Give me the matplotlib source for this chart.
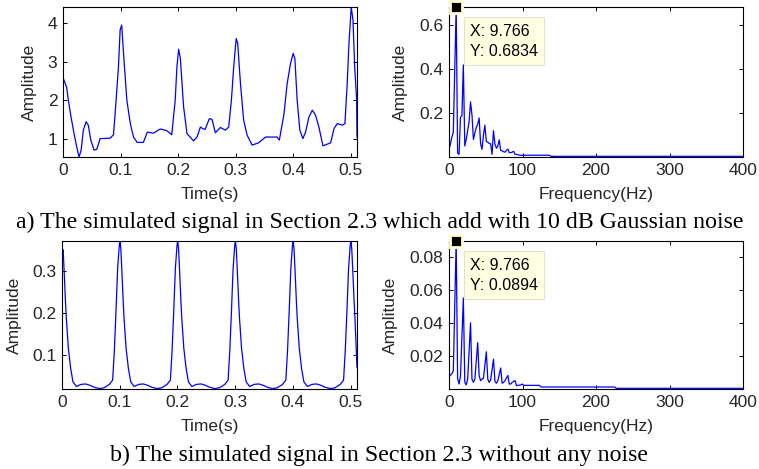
import numpy as np
import matplotlib
matplotlib.use('Agg')
import matplotlib.pyplot as plt

# time signal with 10 dB noise
t_noisy = [0.000, 0.0005, 0.0035, 0.0064, 0.0093, 0.014, 0.0192, 0.0239, 0.0279, 0.0314,
           0.0354, 0.0401, 0.044, 0.048, 0.054, 0.0587, 0.0645, 0.082, 0.0877, 0.0906,
           0.0964, 0.0993, 0.102, 0.106, 0.111, 0.117, 0.1225, 0.129, 0.1397, 0.1467,
           0.157, 0.169, 0.180, 0.189, 0.195, 0.198, 0.201, 0.204, 0.2096, 0.2155,
           0.227, 0.233, 0.2387, 0.243, 0.247, 0.2544, 0.259, 0.2648, 0.2735, 0.282,
           0.288, 0.2927, 0.2967, 0.301, 0.3037, 0.3084, 0.314, 0.320, 0.3287, 0.340,
           0.352, 0.372, 0.376, 0.3838, 0.3897, 0.3955, 0.400, 0.403, 0.407, 0.4117,
           0.417, 0.4216, 0.4274, 0.4333, 0.439, 0.4448, 0.4518, 0.4652, 0.471, 0.4768,
           0.4855, 0.490, 0.494, 0.497, 0.501, 0.504, 0.507, 0.5104, 0.511]
v_noisy = [2.45, 2.57, 2.45, 2.33, 2.0, 1.56, 1.13, 0.78, 0.52, 0.69,
           1.22, 1.44, 1.35, 0.98, 0.70, 0.72, 1.0, 1.01, 1.1, 1.65,
           2.87, 3.83, 3.96, 3.04, 2.0, 1.39, 1.04, 0.9, 0.9, 1.17,
           1.14, 1.25, 1.21, 1.1, 2.0, 2.87, 3.33, 3.09, 1.83, 1.13,
           0.94, 1.04, 1.3, 1.26, 1.24, 1.52, 1.50, 1.15, 1.29, 1.22,
           1.30, 2.0, 2.87, 3.61, 3.48, 2.44, 1.48, 1.09, 0.83, 0.89,
           1.04, 1.04, 0.96, 1.61, 2.44, 2.96, 3.22, 3.09, 2.0, 1.22,
           1.0, 1.17, 1.56, 1.74, 1.61, 1.30, 0.81, 0.89, 1.26, 1.39,
           1.35, 1.39, 2.44, 3.48, 4.43, 4.09, 2.87, 2.0, 1.04]

# clean time signal
t_clean = [0.000, 0.001, 0.002, 0.0035, 0.006, 0.0075, 0.011, 0.015, 0.019, 0.025,
           0.033, 0.041, 0.048, 0.056, 0.065, 0.073, 0.082,
           0.0877, 0.0906, 0.0935, 0.0964, 0.0993, 0.1005, 0.102, 0.1035, 0.106, 0.1075,
           0.111, 0.115, 0.119, 0.125, 0.133, 0.141, 0.148, 0.156, 0.165, 0.173, 0.182,
           0.1877, 0.1906, 0.1935, 0.1964, 0.1993, 0.2005, 0.202, 0.2035, 0.206, 0.2075,
           0.211, 0.215, 0.219, 0.225, 0.233, 0.241, 0.248, 0.256, 0.265, 0.273, 0.282,
           0.2877, 0.2906, 0.2935, 0.2964, 0.2993, 0.3005, 0.302, 0.3035, 0.306, 0.3075,
           0.311, 0.315, 0.319, 0.325, 0.333, 0.341, 0.348, 0.356, 0.365, 0.373, 0.382,
           0.3877, 0.3906, 0.3935, 0.3964, 0.3993, 0.4005, 0.402, 0.4035, 0.406, 0.4075,
           0.411, 0.415, 0.419, 0.425, 0.433, 0.441, 0.448, 0.456, 0.465, 0.473, 0.482,
           0.4877, 0.4906, 0.4935, 0.4964, 0.4993, 0.5005, 0.502, 0.5035, 0.506, 0.5075,
           0.511]
v_clean = [0.371, 0.345, 0.350, 0.306, 0.227, 0.187, 0.116, 0.068, 0.036, 0.025,
           0.030, 0.031, 0.028, 0.023, 0.020, 0.022, 0.030,
           0.040, 0.108, 0.203, 0.306, 0.362, 0.371, 0.350, 0.306, 0.227, 0.187,
           0.116, 0.068, 0.036, 0.025, 0.030, 0.031, 0.028, 0.023, 0.020, 0.022, 0.030,
           0.040, 0.108, 0.203, 0.306, 0.362, 0.371, 0.350, 0.306, 0.227, 0.187,
           0.116, 0.068, 0.036, 0.025, 0.030, 0.031, 0.028, 0.023, 0.020, 0.022, 0.030,
           0.040, 0.108, 0.203, 0.306, 0.362, 0.371, 0.350, 0.306, 0.227, 0.187,
           0.116, 0.068, 0.036, 0.025, 0.030, 0.031, 0.028, 0.023, 0.020, 0.022, 0.030,
           0.040, 0.108, 0.203, 0.306, 0.362, 0.371, 0.350, 0.306, 0.227, 0.187,
           0.116, 0.068, 0.036, 0.025, 0.030, 0.031, 0.028, 0.023, 0.020, 0.022, 0.030,
           0.040, 0.108, 0.203, 0.306, 0.362, 0.371, 0.350, 0.306, 0.227, 0.187,
           0.070]

# amplitude spectrum, noisy
f_noisy = [0, 1.95, 3.9, 5.86, 9.766, 11.7, 13.7, 15.6, 17.6, 19.5,
           21.5, 23.4, 25.4, 27.3, 29.3, 31.3, 33.2, 35.2, 37.1, 39.1,
           41.0, 43.0, 44.9, 46.9, 48.8, 50.8, 52.7, 54.7, 56.6, 58.6,
           60.5, 62.5, 64.5, 66.4, 68.4, 70.3, 72.3, 74.2, 76.2, 78.1,
           80.1, 82.0, 84.0, 85.9, 87.9, 89.8, 91.8, 93.8, 95.7, 97.7,
           136.7, 138.7, 400]
a_noisy = [0.035, 0.06, 0.09, 0.112, 0.6834, 0.018, 0.012, 0.18, 0.19, 0.42,
           0.05, 0.08, 0.12, 0.16, 0.251, 0.19, 0.08, 0.11, 0.135, 0.15,
           0.178, 0.06, 0.035, 0.10, 0.145, 0.07, 0.068, 0.062, 0.06, 0.012,
           0.12, 0.06, 0.04, 0.05, 0.078, 0.03, 0.028, 0.024, 0.022, 0.03,
           0.036, 0.02, 0.02, 0.022, 0.026, 0.012, 0.012, 0.010, 0.009, 0.008,
           0.008, 0.003, 0.003]

# amplitude spectrum, clean
f_clean = [0, 1.95, 3.9, 5.86, 9.766, 11.72, 13.67, 15.63, 19.53, 21.48,
           23.44, 25.39, 29.30, 31.25, 33.2, 35.16, 39.06, 41.02, 42.97, 44.92,
           46.88, 50.78, 52.73, 54.69, 56.64, 60.55, 62.5, 64.45, 66.41, 70.31,
           72.27, 74.22, 76.17, 80.08, 82.03, 83.98, 85.94, 89.84, 91.80, 93.75,
           97.66, 99.61, 101.6, 123.0, 125.0, 225.6, 227.5, 400]
a_clean = [0.0071, 0.0085, 0.0092, 0.011, 0.0894, 0.0062, 0.003, 0.0078, 0.055, 0.004,
           0.0025, 0.006, 0.040, 0.006, 0.004, 0.006, 0.028, 0.008, 0.005, 0.006,
           0.0065, 0.0225, 0.006, 0.004, 0.0055, 0.018, 0.0045, 0.0035, 0.005, 0.0127,
           0.0035, 0.004, 0.005, 0.0082, 0.003, 0.003, 0.004, 0.0051, 0.002, 0.0022,
           0.0025, 0.003, 0.0022, 0.0022, 0.0012, 0.0012, 0.0004, 0.0004]

t_ticks = [0, 0.1, 0.2, 0.3, 0.4, 0.5]
t_ticklabels = ['0', '0.1', '0.2', '0.3', '0.4', '0.5']
f_ticks = [0, 100, 200, 300, 400]
f_ticklabels = ['0', '100', '200', '300', '400']
y_ticks = [[1, 2, 3, 4], [0.2, 0.4, 0.6], [0.1, 0.2, 0.3], [0.02, 0.04, 0.06, 0.08]]
y_ticklabels = [['1', '2', '3', '4'], ['0.2', '0.4', '0.6'],
                ['0.1', '0.2', '0.3'], ['0.02', '0.04', '0.06', '0.08']]
peak_x = [9.766, 9.766]
peak_y = [0.6834, 0.0894]
captions = ['a) The simulated signal in Section 2.3 which add with 10 dB Gaussian noise',
            'b) The simulated signal in Section 2.3 without any noise']

plt.rcParams['font.family'] = ['Liberation Sans', 'DejaVu Sans']
txtc = '#262626'

fig = plt.figure(figsize=(7.59, 4.69), dpi=100)
W, H = 759., 469.
def add(l, t, r, b):
    return fig.add_axes([l/W, 1-b/H, (r-l)/W, (b-t)/H])

ax1 = add(63, 7, 357, 157)
ax2 = add(449, 7, 743, 157)
ax3 = add(62, 241, 357, 389)
ax4 = add(449, 241, 743, 389)

ax1.plot(t_noisy, v_noisy, c='#0000ff', lw=0.9)
ax1.set_xlim(0, 0.511)
ax1.set_ylim(min(v_noisy), max(v_noisy))
ax3.plot(t_clean, v_clean, c='#0000ff', lw=0.9)
ax3.set_xlim(0, 0.511)
ax3.set_ylim(0.019, max(v_clean))
ax2.plot(f_noisy, a_noisy, c='#0000ff', lw=0.9)
ax2.set_xlim(0, 400)
ax2.set_ylim(0.0, max(a_noisy))
ax4.plot(f_clean, a_clean, c='#0000ff', lw=0.9)
ax4.set_xlim(0, 400)
ax4.set_ylim(0.0, max(a_clean))

axes = [ax1, ax2, ax3, ax4]
for i, ax in enumerate(axes):
    if i in (0, 2):
        ax.set_xticks(t_ticks)
        ax.set_xticklabels(t_ticklabels)
        ax.set_xlabel('Time(s)', fontsize=12.5, color=txtc)
    else:
        ax.set_xticks(f_ticks)
        ax.set_xticklabels(f_ticklabels)
        ax.set_xlabel('Frequency(Hz)', fontsize=12.5, color=txtc)
    ax.set_yticks(y_ticks[i])
    ax.set_yticklabels(y_ticklabels[i])
    ax.set_ylabel('Amplitude', fontsize=12.5, color=txtc)
    ax.tick_params(direction='in', length=3, width=0.7, top=True, right=True,
                   labelsize=12.5, labelcolor=txtc, pad=4)
    for s in ax.spines.values():
        s.set_linewidth(0.8)

ax1.yaxis.set_label_coords(-0.088, 0.5)
ax2.yaxis.set_label_coords(-0.14, 0.5)
ax3.yaxis.set_label_coords(-0.135, 0.5)
ax4.yaxis.set_label_coords(-0.172, 0.5)
for ax in axes:
    ax.xaxis.set_label_coords(0.5, -0.2)

for ax, px, py in [(ax2, peak_x[0], peak_y[0]), (ax4, peak_x[1], peak_y[1])]:
    ax.plot([px], [py], 's', ms=8, mfc='k', mec='#ffffd0', mew=2, clip_on=False, zorder=5)
    ax.annotate('X: %.3f\nY: %.4f' % (px, py), xy=(px, py), xytext=(10, -12),
                textcoords='offset points', ha='left', va='top', fontsize=11.5,
                color='k', linespacing=1.45,
                bbox=dict(boxstyle='square,pad=0.4', fc='#ffffe1', ec='#e2e2cf', lw=0.8),
                zorder=6)

fig.text(0.5, 1-228/H, captions[0], ha='center', va='baseline', fontsize=17.2,
         family=['Liberation Serif'])
fig.text(0.5, 1-461/H, captions[1], ha='center', va='baseline', fontsize=17.2,
         family=['Liberation Serif'])

fig.savefig('out.png', dpi=100)
